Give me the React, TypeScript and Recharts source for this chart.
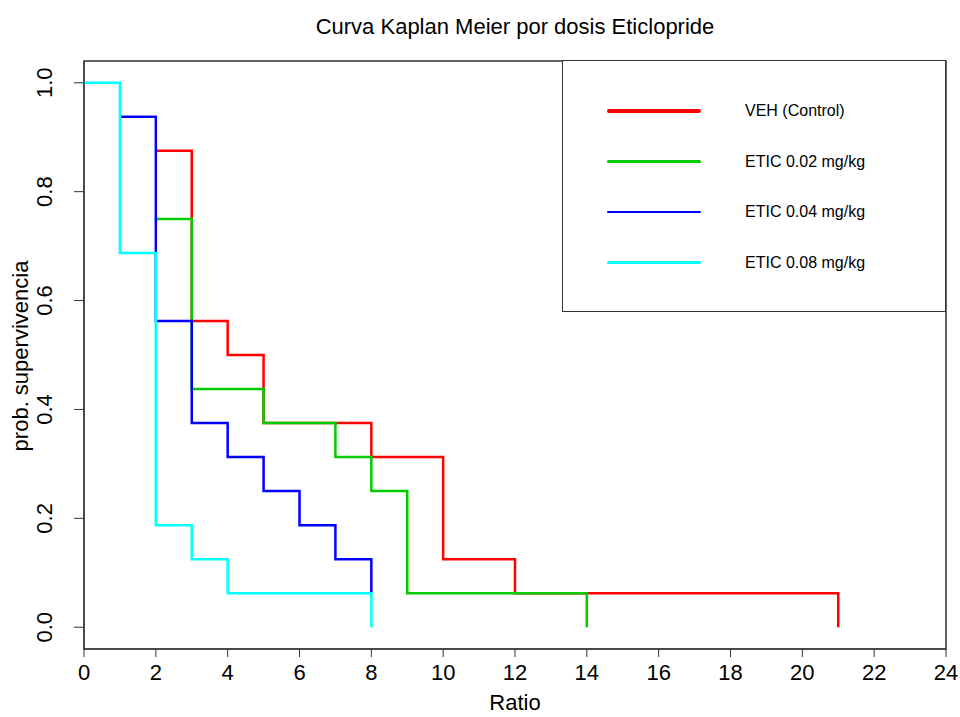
import React from "react";
import { LineChart, Line, XAxis, YAxis, ReferenceArea, Label } from "recharts";

// Kaplan-Meier step curves: [time, survival]
const vehControl = [
  { t: 2, s: 0.875 },
  { t: 3, s: 0.5625 },
  { t: 4, s: 0.5 },
  { t: 5, s: 0.375 },
  { t: 8, s: 0.3125 },
  { t: 10, s: 0.125 },
  { t: 12, s: 0.0625 },
  { t: 21, s: 0 },
];
const etic002 = [
  { t: 2, s: 0.75 },
  { t: 3, s: 0.4375 },
  { t: 5, s: 0.375 },
  { t: 7, s: 0.3125 },
  { t: 8, s: 0.25 },
  { t: 9, s: 0.0625 },
  { t: 14, s: 0 },
];
const etic004 = [
  { t: 1, s: 0.9375 },
  { t: 2, s: 0.5625 },
  { t: 3, s: 0.375 },
  { t: 4, s: 0.3125 },
  { t: 5, s: 0.25 },
  { t: 6, s: 0.1875 },
  { t: 7, s: 0.125 },
  { t: 8, s: 0.0625 },
];
const etic008 = [
  { t: 0, s: 1 },
  { t: 1, s: 0.6875 },
  { t: 2, s: 0.1875 },
  { t: 3, s: 0.125 },
  { t: 4, s: 0.0625 },
  { t: 8, s: 0 },
];

const xTicks = [0, 2, 4, 6, 8, 10, 12, 14, 16, 18, 20, 22, 24];
const yTicks = [0, 0.2, 0.4, 0.6, 0.8, 1.0];

const series = [
  { name: "VEH (Control)", data: vehControl, color: "#ff0000", legendWidth: 4 },
  { name: "ETIC 0.02 mg/kg", data: etic002, color: "#00cd00", legendWidth: 2.5 },
  { name: "ETIC 0.04 mg/kg", data: etic004, color: "#0000ff", legendWidth: 2.5 },
  { name: "ETIC 0.08 mg/kg", data: etic008, color: "#00ffff", legendWidth: 3 },
];

const FONT = "'Liberation Sans', Arial, sans-serif";
const AXIS = "#333";

function YTick({ x, y, payload }: any) {
  return (
    <text
      transform={`translate(${x - 20},${y}) rotate(-90)`}
      textAnchor="middle"
      fontSize={22}
      fontFamily={FONT}
      fill="#000"
    >
      {payload.value.toFixed(1)}
    </text>
  );
}

export default function App() {
  return (
    <div style={{ position: "absolute", left: 0, top: 0, width: 960, height: 717, background: "#fff", fontFamily: FONT }}>
      <div style={{ position: "absolute", left: 84, width: 862, top: 14, textAlign: "center", fontSize: 22, lineHeight: "26px", color: "#000" }}>
        Curva Kaplan Meier por dosis Eticlopride
      </div>
      <LineChart width={960} height={717} margin={{ top: 61, right: 14, bottom: 0, left: 0 }}>
        <XAxis
          dataKey="t"
          type="number"
          domain={[0, 24]}
          ticks={xTicks}
          allowDataOverflow
          height={68}
          tickSize={8}
          tickMargin={7}
          stroke={AXIS}
          tick={{ fontSize: 22, fill: "#000", fontFamily: FONT }}
        >
          <Label
            content={() => (
              <text x={515} y={710} textAnchor="middle" fontSize={22} fontFamily={FONT} fill="#000">
                Ratio
              </text>
            )}
          />
        </XAxis>
        <YAxis
          dataKey="s"
          type="number"
          domain={[-0.04, 1.04]}
          ticks={yTicks}
          allowDataOverflow
          width={84}
          tickSize={10}
          stroke={AXIS}
          tick={<YTick />}
        >
          <Label
            content={() => (
              <text
                transform="translate(28,356) rotate(-90)"
                textAnchor="middle"
                fontSize={22}
                fontFamily={FONT}
                fill="#000"
              >
                prob. supervivencia
              </text>
            )}
          />
        </YAxis>
        <ReferenceArea x1={0} x2={24} y1={-0.04} y2={1.04} fill="none" stroke={AXIS} strokeWidth={1.5} />
        {series.map((sr) => (
          <Line
            key={sr.name}
            data={sr.data}
            dataKey="s"
            type="stepAfter"
            stroke={sr.color}
            strokeWidth={2.5}
            dot={false}
            activeDot={false}
            isAnimationActive={false}
          />
        ))}
      </LineChart>
      <div
        style={{
          position: "absolute",
          left: 562,
          top: 60,
          width: 384,
          height: 252,
          boxSizing: "border-box",
          border: `1.5px solid ${AXIS}`,
          background: "#fff",
        }}
      >
        {series.map((sr, i) => (
          <div key={sr.name} style={{ position: "absolute", left: 0, top: 50 + i * 50.5 - 12, height: 24, width: 380 }}>
            <div
              style={{
                position: "absolute",
                left: 44,
                width: 94,
                top: 12 - sr.legendWidth / 2,
                height: sr.legendWidth,
                background: sr.color,
                borderRadius: 2,
              }}
            />
            <div style={{ position: "absolute", left: 182, top: 2, fontSize: 16, lineHeight: "20px", color: "#000", whiteSpace: "nowrap" }}>
              {sr.name}
            </div>
          </div>
        ))}
      </div>
    </div>
  );
}
